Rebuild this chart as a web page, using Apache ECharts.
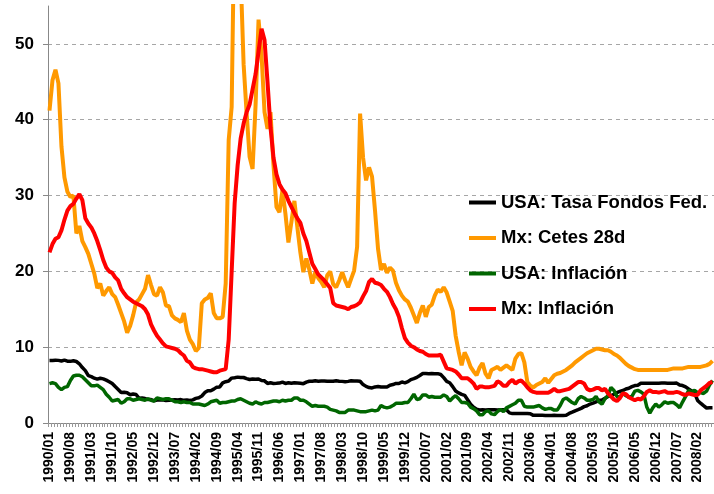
<!DOCTYPE html>
<html>
<head>
<meta charset="utf-8">
<script src="https://cdn.jsdelivr.net/npm/echarts@6/dist/echarts.min.js"></script>
<style>
  html, body { margin: 0; padding: 0; background: #fff; }
  #main { width: 714px; height: 494px; }
</style>
</head>
<body>
<div id="main"></div>
<script>
// monthly series, 1990/01 .. 2008/07
const startYear = 1990;

const fedFunds = [
  8.23, 8.24, 8.28, 8.26, 8.18, 8.29, 8.15, 8.13, 8.20, 8.11, 7.81, 7.31,
  6.91, 6.25, 6.12, 5.91, 5.78, 5.90, 5.82, 5.66, 5.45, 5.21, 4.81, 4.43,
  4.03, 4.06, 3.98, 3.73, 3.82, 3.76, 3.25, 3.30, 3.22, 3.10, 3.09, 2.92,
  3.02, 3.03, 3.07, 2.96, 3.00, 3.04, 3.06, 3.03, 3.09, 2.99, 3.02, 2.96,
  3.05, 3.25, 3.34, 3.56, 4.01, 4.25, 4.26, 4.47, 4.73, 4.76, 5.29, 5.45,
  5.53, 5.92, 5.98, 6.05, 6.01, 6.00, 5.85, 5.74, 5.80, 5.76, 5.80, 5.60,
  5.56, 5.22, 5.31, 5.22, 5.24, 5.27, 5.40, 5.22, 5.30, 5.24, 5.31, 5.29,
  5.25, 5.19, 5.39, 5.51, 5.50, 5.56, 5.52, 5.54, 5.54, 5.50, 5.52, 5.50,
  5.56, 5.51, 5.49, 5.45, 5.49, 5.56, 5.54, 5.55, 5.51, 5.07, 4.83, 4.68,
  4.63, 4.76, 4.81, 4.74, 4.74, 4.76, 4.99, 5.07, 5.22, 5.20, 5.42, 5.30,
  5.45, 5.73, 5.85, 6.02, 6.27, 6.53, 6.54, 6.50, 6.52, 6.51, 6.51, 6.40,
  5.98, 5.49, 5.31, 4.80, 4.21, 3.97, 3.77, 3.65, 3.07, 2.49, 2.09, 1.82,
  1.73, 1.74, 1.73, 1.75, 1.75, 1.75, 1.73, 1.74, 1.75, 1.75, 1.34, 1.24,
  1.24, 1.26, 1.25, 1.26, 1.26, 1.22, 1.01, 1.03, 1.01, 1.01, 1.00, 0.98,
  1.00, 1.01, 1.00, 1.00, 1.00, 1.03, 1.26, 1.43, 1.61, 1.76, 1.93, 2.16,
  2.28, 2.50, 2.63, 2.79, 3.00, 3.04, 3.26, 3.50, 3.62, 3.78, 4.00, 4.16,
  4.29, 4.49, 4.59, 4.79, 4.94, 4.99, 5.24, 5.25, 5.25, 5.25, 5.25, 5.24,
  5.25, 5.26, 5.26, 5.25, 5.25, 5.25, 5.26, 5.02, 4.94, 4.76, 4.49, 4.24,
  3.94, 2.98, 2.61, 2.28, 1.98, 2.00, 2.01
];

const cetes28 = [
  41.2, 45.2, 46.6, 44.8, 36.5, 32.4, 30.5, 29.8, 30.0, 25.0, 26.0, 24.0,
  23.2, 22.3, 21.0, 19.7, 17.8, 18.4, 16.8, 17.4, 17.9, 17.0, 16.6, 15.6,
  14.5, 13.4, 11.9, 12.8, 14.2, 15.9, 16.3, 17.0, 17.7, 19.5, 18.2, 17.0,
  16.8, 17.9, 17.2, 15.5, 15.4, 14.2, 13.8, 13.6, 13.3, 14.5, 12.2, 11.0,
  10.4, 9.5, 9.9, 15.8, 16.3, 16.5, 17.1, 14.5, 13.8, 13.8, 14.0, 18.4,
  37.3, 41.7, 69.5, 74.8, 59.2, 47.3, 40.9, 35.1, 33.5, 41.9, 53.2, 48.6,
  41.0, 38.8, 41.0, 34.0, 28.5, 27.8, 30.7, 27.6, 23.8, 26.5, 29.3, 25.8,
  22.5, 19.9, 21.7, 20.2, 18.4, 19.9, 19.1, 18.6, 17.9, 19.5, 20.0, 18.3,
  17.9, 18.8, 19.9, 18.8, 17.9, 19.0, 20.1, 23.2, 40.8, 35.0, 32.0, 33.7,
  32.5, 28.0, 23.0, 20.2, 21.0, 19.8, 20.5, 20.1, 18.5, 17.5, 16.8, 16.3,
  16.0, 15.2, 14.2, 13.2, 14.5, 15.5, 14.0, 15.3, 15.6, 16.8, 17.6, 17.3,
  17.9, 17.2, 16.0, 14.8, 11.5, 9.4, 7.6, 9.3, 8.5, 7.4, 6.8, 6.3,
  7.3, 7.9, 6.5, 5.9, 7.0, 7.2, 7.4, 7.0, 7.3, 7.6, 7.3, 7.0,
  8.5, 9.1, 9.2, 8.0, 5.4, 4.9, 4.7, 5.0, 5.2, 5.4, 5.9, 5.3,
  5.8, 6.3, 6.5, 6.6, 6.8, 7.0, 7.3, 7.6, 8.0, 8.3, 8.6, 8.9,
  9.2, 9.4, 9.6, 9.8, 9.8, 9.7, 9.6, 9.6, 9.4, 9.1, 8.9, 8.6,
  8.2, 7.8, 7.5, 7.3, 7.1, 7.0, 7.0, 7.0, 7.0, 7.0, 7.0, 7.0,
  7.0, 7.0, 7.0, 7.0, 7.1, 7.2, 7.2, 7.2, 7.2, 7.3, 7.4, 7.4,
  7.4, 7.4, 7.4, 7.5, 7.6, 7.8, 8.2
];

const usaInfl = [
  5.2, 5.3, 5.2, 4.7, 4.4, 4.7, 4.8, 5.6, 6.2, 6.3, 6.3, 6.1,
  5.7, 5.3, 4.9, 4.9, 5.0, 4.7, 4.4, 3.8, 3.4, 2.9, 3.0, 3.1,
  2.6, 2.8, 3.2, 3.2, 3.0, 3.1, 3.2, 3.1, 3.0, 3.2, 3.0, 2.9,
  3.3, 3.2, 3.1, 3.2, 3.2, 3.0, 2.8, 2.8, 2.7, 2.8, 2.7, 2.7,
  2.5, 2.5, 2.5, 2.4, 2.3, 2.5, 2.8, 2.9, 3.0, 2.6, 2.7, 2.7,
  2.8, 2.9, 2.9, 3.1, 3.2, 3.0, 2.8, 2.6, 2.5, 2.8, 2.6, 2.5,
  2.7, 2.7, 2.8, 2.9, 2.9, 2.8, 3.0, 2.9, 3.0, 3.0, 3.3, 3.3,
  3.0, 3.0, 2.8, 2.5, 2.2, 2.3, 2.2, 2.2, 2.2, 2.1, 1.8, 1.7,
  1.6, 1.4, 1.4, 1.4, 1.7, 1.7, 1.7, 1.6, 1.5, 1.5, 1.5, 1.6,
  1.7, 1.6, 1.7, 2.3, 2.1, 2.0, 2.1, 2.3, 2.6, 2.6, 2.6, 2.7,
  2.7, 3.2, 3.8, 3.1, 3.2, 3.7, 3.7, 3.4, 3.5, 3.4, 3.4, 3.4,
  3.7, 3.5, 2.9, 3.3, 3.6, 3.2, 2.7, 2.7, 2.6, 2.1, 1.9, 1.6,
  1.1, 1.1, 1.5, 1.6, 1.2, 1.1, 1.5, 1.8, 1.5, 2.0, 2.2, 2.4,
  2.6, 3.0, 3.0, 2.2, 2.1, 2.1, 2.1, 2.2, 2.3, 2.0, 1.8, 1.9,
  1.9, 1.7, 1.7, 2.3, 3.1, 3.3, 3.0, 2.7, 2.5, 3.2, 3.5, 3.3,
  3.0, 3.0, 3.1, 3.5, 2.8, 2.5, 3.2, 3.6, 4.7, 4.3, 3.5, 3.4,
  4.0, 3.6, 3.4, 3.5, 4.2, 4.3, 4.1, 3.8, 2.1, 1.3, 2.0, 2.5,
  2.1, 2.4, 2.8, 2.6, 2.7, 2.7, 2.4, 2.0, 2.8, 3.5, 4.3, 4.1,
  4.3, 4.0, 4.0, 3.9, 4.2, 5.0, 5.6
];

const mxInfl = [
  22.5, 23.6, 24.3, 24.5, 25.4, 26.8, 28.0, 28.6, 28.9, 29.6, 30.2, 29.4,
  27.0, 26.3, 25.8, 25.0, 24.0, 22.8, 21.5, 20.5, 20.0, 19.8, 19.2, 18.8,
  17.7, 17.1, 16.6, 16.3, 16.0, 15.8, 15.6, 15.4, 15.0, 14.3, 13.0, 12.2,
  11.5, 11.0, 10.5, 10.1, 10.0, 9.9, 9.8, 9.6, 9.2, 8.9, 8.2, 8.0,
  7.4, 7.2, 7.1, 7.1, 7.0, 6.9, 6.8, 6.7, 6.7, 6.9, 7.0, 7.1,
  11.0, 20.0, 29.0, 34.0, 37.5, 39.5, 41.0, 42.0, 44.0, 46.0, 49.0, 52.0,
  50.5, 45.0, 39.0, 35.0, 32.8, 31.5, 30.8, 30.3, 29.3, 28.5, 27.7, 27.0,
  26.4, 25.0, 24.0, 22.5, 21.0, 20.3, 19.6, 19.2, 18.8, 18.3, 17.8, 15.8,
  15.5, 15.4, 15.3, 15.2, 15.0, 15.3, 15.4, 15.6, 15.9, 16.7, 17.4, 18.6,
  19.0, 18.5, 18.4, 18.2, 17.7, 17.3, 16.6, 15.7, 15.0, 14.0, 12.5, 11.2,
  10.6, 10.2, 10.0, 9.7, 9.5, 9.4, 9.1, 8.9, 8.9, 8.9, 8.9, 9.0,
  8.1, 7.2, 7.1, 7.0, 6.8, 6.4, 5.9, 5.9, 5.9, 5.6, 5.2, 4.5,
  4.8, 4.8, 4.7, 4.7, 4.8, 4.9, 5.5, 5.3, 4.9, 4.9, 5.4, 5.7,
  5.2, 5.5, 5.6, 5.2, 4.7, 4.3, 4.1, 4.0, 4.0, 4.0, 4.0, 4.0,
  4.2, 4.5, 4.2, 4.2, 4.3, 4.4, 4.5, 4.8, 5.1, 5.4, 5.4, 5.2,
  4.5, 4.3, 4.4, 4.6, 4.6, 4.3, 4.5, 3.9, 3.5, 3.1, 2.9, 3.3,
  3.9, 3.8, 3.4, 3.2, 3.0, 3.2, 3.1, 3.5, 4.1, 4.3, 4.1, 4.1,
  4.0, 4.1, 4.2, 4.0, 4.0, 4.0, 4.1, 4.0, 3.8, 3.7, 3.9, 3.8,
  3.7, 3.7, 4.3, 4.6, 4.9, 5.3, 5.4
];

const seriesNames = ['USA: Tasa Fondos Fed.', 'Mx: Cetes 28d', 'USA: Inflación', 'Mx: Inflación'];
const seriesColors = ['#000000', '#FF9900', '#006600', '#FF0000'];

// month labels yyyy/mm
const months = [];
for (let i = 0; i < fedFunds.length; i++) {
  const y = startYear + Math.floor(i / 12);
  const m = (i % 12) + 1;
  months.push(y + '/' + (m < 10 ? '0' + m : m));
}

const chart = echarts.init(document.getElementById('main'));
const font = 'Liberation Sans, Arial, sans-serif';

const option = {
  animation: false,
  backgroundColor: '#fff',
  grid: { left: 48, right: 0, top: 6, bottom: 71, containLabel: false },
  legend: {
    orient: 'vertical',
    left: 469,
    top: 193,
    padding: 0,
    itemGap: 16.5,
    itemWidth: 27,
    itemHeight: 4,
    icon: 'rect',
    textStyle: { fontFamily: font, fontSize: 18.5, fontWeight: 'bold', color: '#000' },
    data: seriesNames
  },
  xAxis: {
    type: 'category',
    data: months,
    boundaryGap: true,
    axisLine: { show: true, lineStyle: { color: '#888', width: 1 } },
    axisTick: { show: true, interval: 0, length: 4, lineStyle: { color: '#999' } },
    axisLabel: {
      interval: 6,
      rotate: 90,
      margin: 9,
      fontFamily: font,
      fontSize: 14,
      fontWeight: 'bold',
      color: '#000'
    },
    splitLine: { show: false }
  },
  yAxis: {
    type: 'value',
    min: 0,
    max: 55,
    interval: 10,
    axisLine: { show: true, lineStyle: { color: '#888', width: 1 } },
    axisTick: { show: true, length: 5, lineStyle: { color: '#888' } },
    axisLabel: {
      showMaxLabel: false,
      margin: 14,
      fontFamily: font,
      fontSize: 17,
      fontWeight: 'bold',
      color: '#000'
    },
    splitLine: {
      show: true,
      lineStyle: {
        // last entry hides the line at the axis max
        color: ['#A6A6A6', '#A6A6A6', '#A6A6A6', '#A6A6A6', '#A6A6A6', '#A6A6A6', 'rgba(0,0,0,0)'],
        type: [4, 4],
        width: 1
      }
    }
  },
  series: [fedFunds, cetes28, usaInfl, mxInfl].map((d, k) => ({
    name: seriesNames[k],
    type: 'line',
    data: d,
    symbol: 'none',
    smooth: false,
    clip: true,
    lineStyle: { color: seriesColors[k], width: k === 1 || k === 3 ? 4 : 3.5 },
    itemStyle: { color: seriesColors[k] }
  }))
};

chart.setOption(option);
</script>
</body>
</html>
